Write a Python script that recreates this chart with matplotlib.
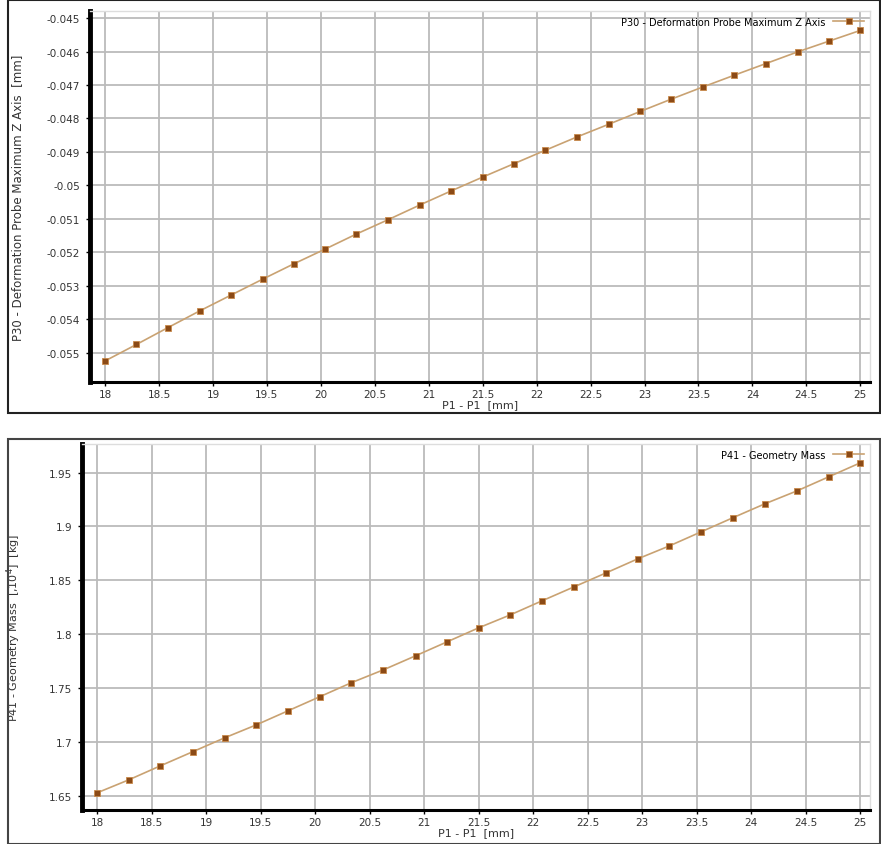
import numpy as np
import matplotlib.pyplot as plt
from matplotlib.patches import Rectangle

# P1 parameter (mm), 25 design points from 18 to 25
p1 = [18.0, 18.29, 18.58, 18.875, 19.17, 19.46, 19.75, 20.04, 20.33, 20.625,
      20.92, 21.21, 21.5, 21.79, 22.08, 22.375, 22.67, 22.96, 23.25, 23.54,
      23.83, 24.125, 24.42, 24.71, 25.0]

# P30 - deformation probe max Z (mm)
p30 = [-0.05524, -0.05475, -0.05425, -0.05375, -0.05327, -0.05280, -0.05234,
       -0.05190, -0.05145, -0.05102, -0.05058, -0.05016, -0.04975, -0.04935,
       -0.04895, -0.04855, -0.04817, -0.04779, -0.04742, -0.04706, -0.04671,
       -0.04636, -0.04601, -0.04569, -0.04537]

# P41 - geometry mass
p41 = [1.653, 1.665, 1.678, 1.691, 1.704, 1.716, 1.729, 1.742, 1.755, 1.767,
       1.780, 1.793, 1.806, 1.818, 1.831, 1.844, 1.857, 1.870, 1.882, 1.895,
       1.908, 1.921, 1.933, 1.946, 1.959]

xticks = [18, 18.5, 19, 19.5, 20, 20.5, 21, 21.5, 22, 22.5, 23, 23.5, 24, 24.5, 25]
xticklabels = ['18', '18.5', '19', '19.5', '20', '20.5', '21', '21.5', '22',
               '22.5', '23', '23.5', '24', '24.5', '25']
yticks_top = [-0.045, -0.046, -0.047, -0.048, -0.049, -0.05, -0.051, -0.052,
              -0.053, -0.054, -0.055]
ytl_top = ['-0.045', '-0.046', '-0.047', '-0.048', '-0.049', '-0.05', '-0.051',
           '-0.052', '-0.053', '-0.054', '-0.055']
yticks_bot = [1.65, 1.7, 1.75, 1.8, 1.85, 1.9, 1.95]
ytl_bot = ['1.65', '1.7', '1.75', '1.8', '1.85', '1.9', '1.95']

W, H = 881, 845
fig = plt.figure(figsize=(W / 100, H / 100), dpi=100)


def px(l, t, r, b):
    return [l / W, 1 - b / H, (r - l) / W, (b - t) / H]


# outer frames of the two panels
fig.add_artist(Rectangle((8 / W, 1 - 414 / H), 872 / W, 413 / H,
                         transform=fig.transFigure, fill=False, lw=1.5, ec='#222222'))
fig.add_artist(Rectangle((8 / W, 0), 872 / W, 405 / H,
                         transform=fig.transFigure, fill=False, lw=1.5, ec='#444444'))

line_c = '#c9a272'
mk_c = '#8b4a16'


def style(ax, x, y, yt, ytl, ylim, ylab, leg, ylab_size):
    ax.plot(x, y, color=line_c, lw=1.2, marker='s', ms=4.5,
            mfc=mk_c, mec='#c8894a', mew=0.6, label=leg)
    ax.set_xlim(17.86, 25.09)
    ax.set_ylim(*ylim)
    ax.set_xticks(xticks)
    ax.set_xticklabels(xticklabels, fontsize=7.5, color='#333333')
    ax.set_yticks(yt)
    ax.set_yticklabels(ytl, fontsize=7.5, color='#333333')
    ax.grid(True, color='#bbbbbb', lw=1.3)
    ax.set_axisbelow(True)
    for s in ['top', 'right']:
        ax.spines[s].set_color('#dddddd')
        ax.spines[s].set_linewidth(1.0)
    ax.spines['left'].set_linewidth(3.5)
    ax.spines['bottom'].set_linewidth(2.2)
    ax.tick_params(axis='x', direction='out', length=3, width=1, pad=2)
    ax.tick_params(axis='y', direction='out', length=3, width=1, pad=4)
    ax.set_xlabel('P1 - P1  [mm]', fontsize=8, color='#333333', labelpad=0)
    ax.set_ylabel(ylab, fontsize=ylab_size, color='#333333')
    ax.legend(loc='upper right', frameon=False, markerfirst=False,
              prop={'size': 7}, handlelength=3.2, borderaxespad=0.2)


ax1 = fig.add_axes(px(90, 12, 870, 383))
style(ax1, p1, p30, yticks_top, ytl_top, (-0.05587, -0.04479),
      'P30 - Deformation Probe Maximum Z Axis  [mm]',
      'P30 - Deformation Probe Maximum Z Axis', 8.5)
ax1.yaxis.set_label_coords(-0.085, 0.5)

ax2 = fig.add_axes(px(82, 445, 870, 811))
style(ax2, p1, p41, yticks_bot, ytl_bot, (1.637, 1.9765),
      'P41 - Geometry Mass  [,10$^4$]  [kg]', 'P41 - Geometry Mass', 8)
ax2.yaxis.set_label_coords(-0.075, 0.5)

fig.savefig('out.png', dpi=100)
